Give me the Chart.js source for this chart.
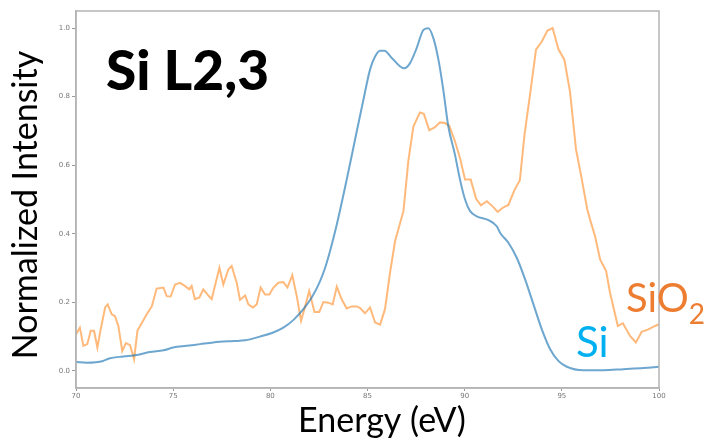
<!DOCTYPE html>
<html>
<head>
<meta charset="utf-8">
<script src="https://cdn.jsdelivr.net/npm/chart.js@4"></script>
<style>
  html, body { margin: 0; padding: 0; background: #fff; }
  #wrap { width: 710px; height: 441px; position: relative; }
</style>
</head>
<body>
<div id="wrap"><canvas id="chart" width="710" height="441"></canvas></div>
<script>
// Si L2,3 edge, normalized intensity vs energy (eV)
const siEnergy = [70.0, 70.55, 71.4, 71.7, 72.43, 73.12, 73.8, 74.5, 75.0, 75.7, 76.38, 77.07, 78.1, 78.7,
  79.47, 80.15, 80.67, 81.18, 81.7, 82.13, 82.56, 82.82, 83.07, 83.42, 83.93, 84.36, 84.79, 85.13, 85.39,
  85.65, 85.87, 86.25, 86.68, 86.88, 87.19, 87.53, 87.88, 88.13, 88.39, 88.65, 88.9, 89.16, 89.5, 89.76,
  90.02, 90.28, 90.62, 91.22, 91.65, 91.82, 92.25, 92.68, 93.11, 93.54, 93.97, 94.4, 94.82, 95.26, 96.1,
  97.14, 98.17, 99.2, 100.0];
const siIntensity = [0.026, 0.024, 0.029, 0.036, 0.042, 0.046, 0.055, 0.06, 0.068, 0.073, 0.078, 0.083, 0.087, 0.089,
  0.1, 0.112, 0.126, 0.148, 0.18, 0.214, 0.262, 0.301, 0.349, 0.427, 0.558, 0.675, 0.791, 0.879, 0.917,
  0.934, 0.934, 0.913, 0.888, 0.883, 0.898, 0.942, 0.995, 1.0, 0.971, 0.908, 0.82, 0.713, 0.631, 0.558,
  0.5, 0.466, 0.451, 0.44, 0.422, 0.403, 0.374, 0.33, 0.267, 0.194, 0.121, 0.063, 0.029, 0.012, 0.002,
  0.002, 0.005, 0.008, 0.012];

const sio2Energy = [70.0, 70.2, 70.38, 70.58, 70.76, 70.93, 71.1, 71.27, 71.5, 71.63, 71.84, 72.0, 72.18, 72.38,
  72.57, 72.78, 72.99, 73.16, 73.64, 73.9, 74.15, 74.5, 74.67, 74.87, 75.1, 75.35, 75.6, 75.83, 75.95,
  76.12, 76.35, 76.55, 76.76, 76.98, 77.38, 77.58, 77.84, 78.01, 78.27, 78.44, 78.7, 78.87, 79.1, 79.3,
  79.5, 79.73, 79.95, 80.16, 80.41, 80.67, 80.88, 81.13, 81.36, 81.58, 81.82, 82.0, 82.27, 82.52, 82.73,
  82.98, 83.21, 83.42, 83.67, 83.93, 84.18, 84.45, 84.62, 84.87, 85.13, 85.39, 85.65, 85.9, 86.16, 86.42,
  86.62, 86.85, 87.1, 87.36, 87.7, 87.9, 88.18, 88.47, 88.73, 88.99, 89.21, 89.5, 89.76, 90.02, 90.31,
  90.59, 90.84, 91.14, 91.44, 91.7, 91.96, 92.25, 92.55, 92.84, 93.08, 93.35, 93.67, 93.97, 94.26, 94.53,
  94.82, 95.13, 95.42, 95.73, 96.03, 96.31, 96.45, 96.71, 96.97, 97.28, 97.48, 97.74, 97.88, 98.14, 98.51,
  98.81, 99.11, 99.45, 99.8, 100.0];
const sio2Intensity = [0.107, 0.126, 0.073, 0.078, 0.117, 0.117, 0.068, 0.121, 0.185, 0.194, 0.165, 0.16, 0.131, 0.058,
  0.081, 0.075, 0.034, 0.117, 0.165, 0.188, 0.24, 0.243, 0.218, 0.217, 0.252, 0.257, 0.248, 0.238, 0.248,
  0.209, 0.214, 0.238, 0.223, 0.209, 0.301, 0.252, 0.296, 0.306, 0.257, 0.207, 0.22, 0.194, 0.185, 0.194,
  0.243, 0.223, 0.223, 0.243, 0.257, 0.259, 0.243, 0.279, 0.218, 0.146, 0.194, 0.233, 0.172, 0.172, 0.201,
  0.199, 0.194, 0.246, 0.209, 0.182, 0.188, 0.188, 0.183, 0.168, 0.185, 0.141, 0.135, 0.18, 0.287, 0.379,
  0.42, 0.466, 0.612, 0.713, 0.754, 0.75, 0.702, 0.711, 0.725, 0.723, 0.715, 0.67, 0.621, 0.558, 0.558,
  0.502, 0.483, 0.495, 0.48, 0.464, 0.476, 0.484, 0.526, 0.556, 0.69, 0.8, 0.937, 0.961, 0.993, 1.0,
  0.939, 0.908, 0.815, 0.646, 0.558, 0.471, 0.442, 0.393, 0.325, 0.291, 0.228, 0.165, 0.131, 0.139, 0.102,
  0.083, 0.114, 0.121, 0.131, 0.136];

const xTicks = [70, 75, 80, 85, 90, 95, 100];
const yTicks = [0.0, 0.2, 0.4, 0.6, 0.8, 1.0];

const toPoints = (xs, ys) => xs.map((x, i) => ({ x, y: ys[i] }));

// frame + slide-style annotations drawn on the canvas
const annotations = {
  id: "annotations",
  afterDraw(chart) {
    const ctx = chart.ctx;
    const a = chart.chartArea;
    ctx.save();
    ctx.strokeStyle = "#b4b4b4";
    ctx.lineWidth = 1.5;
    ctx.strokeRect(a.left, a.top, a.right - a.left, a.bottom - a.top);

    ctx.fillStyle = "#000";
    ctx.textBaseline = "alphabetic";
    ctx.font = "900 55px Lato, 'Open Sans', sans-serif";
    ctx.textAlign = "left";
    ctx.fillText("Si L2,3", 106, 90);

    ctx.font = "34px Lato, 'Open Sans', sans-serif";
    ctx.textAlign = "center";
    ctx.fillText("Energy (eV)", 382, 432);

    ctx.save();
    ctx.translate(37, 205);
    ctx.rotate(-Math.PI / 2);
    ctx.font = "34px Lato, 'Open Sans', sans-serif";
    ctx.fillText("Normalized Intensity", 0, 0);
    ctx.restore();

    ctx.textAlign = "left";
    ctx.fillStyle = "#00b0f0";
    ctx.font = "42px Lato, 'Open Sans', sans-serif";
    ctx.fillText("Si", 576, 357);

    ctx.fillStyle = "#ed7d31";
    ctx.font = "40px Lato, 'Open Sans', sans-serif";
    ctx.fillText("SiO", 626, 312);
    const w = ctx.measureText("SiO").width;
    ctx.font = "28px Lato, 'Open Sans', sans-serif";
    ctx.fillText("2", 626 + w, 324);
    ctx.restore();
  },
};

new Chart(document.getElementById("chart"), {
  type: "line",
  data: {
    datasets: [
      {
        label: "Si",
        data: toPoints(siEnergy, siIntensity),
        borderColor: "rgba(31,119,180,0.65)",
        borderWidth: 2,
        pointRadius: 0,
        cubicInterpolationMode: "monotone",
      },
      {
        label: "SiO2",
        data: toPoints(sio2Energy, sio2Intensity),
        borderColor: "rgba(255,127,14,0.55)",
        borderWidth: 2,
        pointRadius: 0,
        tension: 0,
      },
    ],
  },
  options: {
    responsive: false,
    animation: false,
    layout: { padding: { top: 11, right: 51, left: 0, bottom: 0 } },
    plugins: { legend: { display: false }, tooltip: { enabled: false } },
    scales: {
      x: {
        type: "linear",
        min: 70,
        max: 100,
        afterBuildTicks: (s) => { s.ticks = xTicks.map((v) => ({ value: v })); },
        afterFit: (s) => { s.height = 53; },
        ticks: { color: "#777", font: { size: 7, family: "'DejaVu Sans', sans-serif" }, padding: 1, maxRotation: 0 },
        grid: { drawOnChartArea: false, drawTicks: true, tickLength: 3, color: "#999" },
        border: { display: true, color: "#b4b4b4", width: 1.5 },
      },
      y: {
        min: -0.05,
        max: 1.05,
        afterBuildTicks: (s) => { s.ticks = yTicks.map((v) => ({ value: v })); },
        afterFit: (s) => { s.width = 76; },
        ticks: {
          color: "#777",
          font: { size: 7, family: "'DejaVu Sans', sans-serif" },
          padding: 2,
          callback: (v) => Number(v).toFixed(1),
        },
        grid: { drawOnChartArea: false, drawTicks: true, tickLength: 4, color: "#999" },
        border: { display: true, color: "#b4b4b4", width: 1.5 },
      },
    },
  },
  plugins: [annotations],
});
</script>
</body>
</html>
